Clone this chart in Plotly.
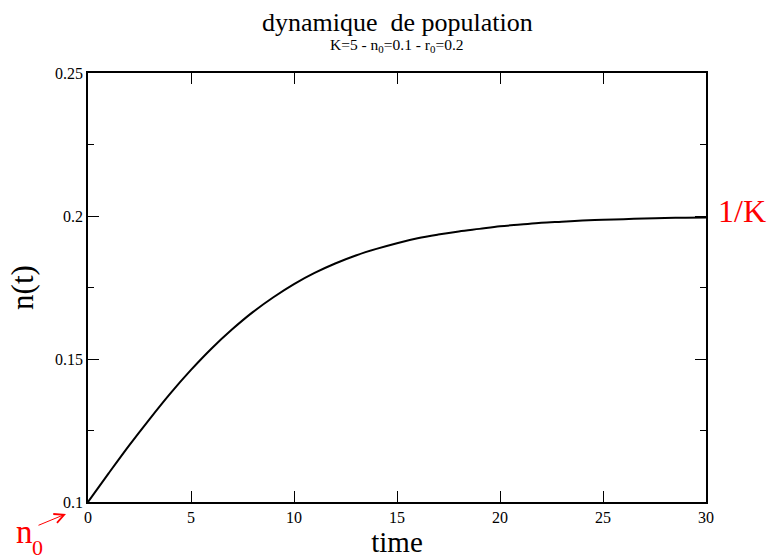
import plotly.graph_objects as go

# data
time = [0, 1, 2, 3, 4, 5, 6, 7, 8, 9, 10, 11, 12, 13, 14, 15, 16, 17, 18, 19, 20,
        21, 22, 23, 24, 25, 26, 27, 28, 29, 30]
n_t = [0.1000, 0.1100, 0.1198, 0.1291, 0.1380, 0.1462, 0.1537, 0.1604, 0.1664, 0.1716,
       0.1762, 0.1801, 0.1834, 0.1862, 0.1885, 0.1905, 0.1922, 0.1935, 0.1946, 0.1955,
       0.1964, 0.1970, 0.1976, 0.1980, 0.1984, 0.1987, 0.1989, 0.1991, 0.1993, 0.1994, 0.1995]

x_ticks = [0, 5, 10, 15, 20, 25, 30]
y_ticks = [0.1, 0.15, 0.2, 0.25]
y_tick_labels = ["0.1", "0.15", "0.2", "0.25"]

SERIF = "Liberation Serif, Times New Roman, serif"

fig = go.Figure()
fig.add_trace(go.Scatter(x=time, y=n_t, mode="lines",
                         line=dict(color="black", width=2, shape="spline"),
                         showlegend=False, hoverinfo="skip"))

L, R, T, B = 88, 64, 73, 55
W, H = 770, 560
pw, ph = W - L - R, H - T - B

def px(x):
    return (x - L) / pw

def py(y):
    return (H - B - y) / ph

axis_common = dict(showgrid=False, zeroline=False, showline=True, linecolor="black",
                   linewidth=1.5, mirror="ticks", ticks="inside", ticklen=11,
                   tickwidth=1, tickcolor="black",
                   tickfont=dict(family=SERIF, size=16, color="black"))

fig.update_xaxes(range=[0, 30], tickvals=x_ticks, ticktext=[str(v) for v in x_ticks],
                 title=dict(text="time", font=dict(family=SERIF, size=29, color="black"),
                            standoff=2),
                 **axis_common)
fig.update_yaxes(range=[0.1, 0.25], tickvals=y_ticks, ticktext=y_tick_labels,
                 minor=dict(tickvals=[0.125, 0.175, 0.225], ticks="inside", ticklen=6,
                            tickwidth=1, tickcolor="black", showgrid=False),
                 title=dict(text="n(t)", font=dict(family=SERIF, size=31, color="black"),
                            standoff=12),
                 **axis_common)

annotations = [
    dict(text="dynamique  de population", x=0.5, y=py(22), xref="paper", yref="paper",
         showarrow=False, font=dict(family=SERIF, size=26, color="black"),
         xanchor="center", yanchor="middle"),
    dict(text="K=5 - n<sub>0</sub>=0.1 - r<sub>0</sub>=0.2", x=0.5, y=py(45),
         xref="paper", yref="paper", showarrow=False,
         font=dict(family=SERIF, size=15.5, color="black"), xanchor="center", yanchor="middle"),
    dict(text="1/K", x=px(716), y=py(212), xref="paper", yref="paper", showarrow=False,
         font=dict(family=SERIF, size=32, color="red"), xanchor="left", yanchor="middle"),
    dict(text="n", x=px(14), y=py(535), xref="paper", yref="paper",
         showarrow=False, font=dict(family=SERIF, size=33, color="red"),
         xanchor="left", yanchor="middle"),
    dict(text="0", x=px(30), y=py(551), xref="paper", yref="paper",
         showarrow=False, font=dict(family=SERIF, size=22, color="red"),
         xanchor="left", yanchor="middle"),
    dict(text="", x=px(66), y=py(517), xref="paper", yref="paper", showarrow=True,
         ax=-29, ay=12, arrowhead=5, arrowsize=1.9, arrowwidth=1, arrowcolor="red"),
]

fig.update_layout(width=W, height=H, margin=dict(l=L, r=R, t=T, b=B),
                  paper_bgcolor="white", plot_bgcolor="white",
                  annotations=annotations)

fig.write_html("out.html", config={"displayModeBar": False},
               post_script="document.body.style.margin='0';document.body.style.overflow='hidden';")
